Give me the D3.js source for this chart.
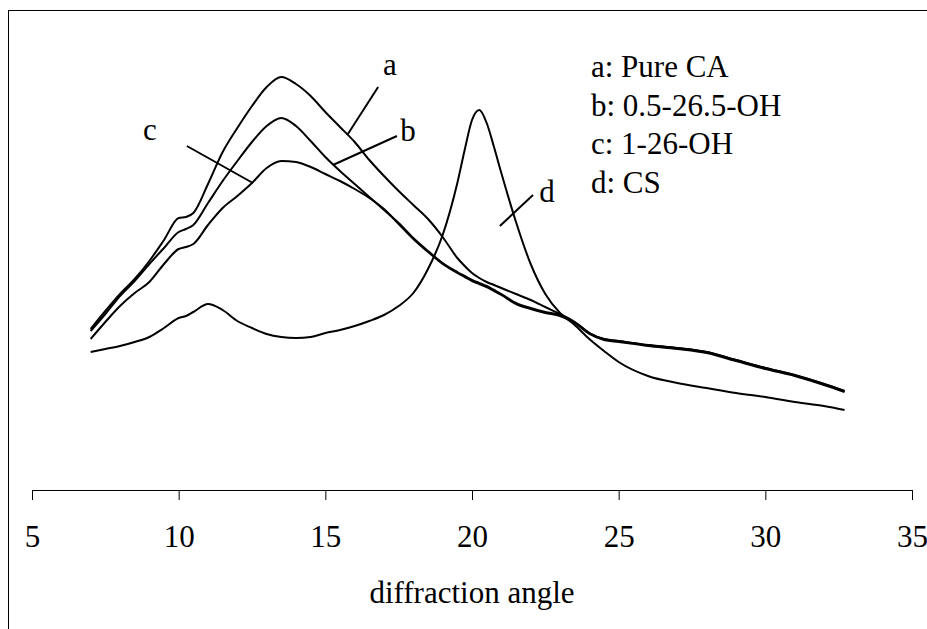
<!DOCTYPE html>
<html><head><meta charset="utf-8">
<script src="https://cdn.jsdelivr.net/npm/d3@7"></script>
<style>html,body{margin:0;padding:0;background:#fff;} svg{display:block;}</style>
</head><body>
<svg id="chart" width="927" height="629"></svg>
<script>
// diffraction angle (2θ)
const angles = [7, 7.5, 8, 8.5, 9, 9.5, 10, 10.25, 10.5, 11, 11.5, 12, 12.5, 13, 13.5, 14, 14.5, 15, 15.5, 16, 16.5, 17, 17.5, 18, 18.5, 19, 19.5, 19.75, 20, 20.25, 20.5, 20.75, 21, 21.5, 22, 22.5, 23, 23.5, 24, 24.5, 25, 26, 27, 28, 29, 30, 31, 32, 32.7];
// intensity (arbitrary units)
const pureCA = [161, 179, 196, 211, 229, 250, 272, 273, 277, 306, 338, 362, 384, 403, 413, 406, 394, 378, 363, 348, 330, 314, 299, 285, 271, 253, 232, 224, 217, 212, 208, 205, 202, 196, 190, 183, 176, 168, 157, 151, 149, 145, 142, 138, 130, 122, 115, 106, 99];
const oh05 = [159, 176, 194, 209, 226, 242, 258, 261, 265, 287, 309, 329, 348, 364, 372, 364, 349, 333, 319, 306, 293, 280, 267, 252, 239, 227, 218, 214, 210, 207, 204, 200, 196, 187, 182, 178, 175, 168, 157, 151, 149, 145, 142, 138, 130, 122, 115, 106, 99];
const oh1 = [151, 168, 184, 197, 208, 226, 241, 243, 246, 265, 282, 294, 307, 322, 329, 328, 323, 316, 309, 301, 292, 281, 266, 251, 238, 226, 217, 213, 209, 206, 203, 199, 195, 186, 181, 177, 174, 167, 156, 150, 148, 144, 141, 137, 129, 121, 114, 105, 98];
const cs = [138, 141, 144, 148, 153, 162, 172, 174, 178, 186, 180, 169, 162, 156, 153, 152, 153, 157, 160, 164, 169, 175, 184, 197, 221, 255, 307, 340, 370, 380, 367, 343, 317, 268, 226, 196, 177, 165, 151, 139, 128, 114, 107, 102, 97, 93, 88, 84, 80];

const xTicks = [5, 10, 15, 20, 25, 30, 35];
const xTitle = "diffraction angle";
const legendLabels = ["a: Pure CA", "b: 0.5-26.5-OH", "c: 1-26-OH", "d: CS"];
const curveTags = ["a", "b", "c", "d"];
// label anchor (angle, intensity) and leader line endpoints in data units
const tagPos = [[17.2, 415], [17.82, 349], [9.02, 350], [22.56, 288]];
const leaderFrom = [[16.8, 403], [17.44, 354], [10.28, 344], [22.08, 295]];
const leaderTo = [[15.77, 356], [15.26, 325], [12.53, 307], [20.95, 264]];

const series = [pureCA, oh05, oh1, cs];
const FONT = "'Liberation Serif', 'Times New Roman', serif";

const svg = d3.select("#chart");
svg.append("rect").attr("x", 8.5).attr("y", 10.5).attr("width", 1000).attr("height", 1000)
  .attr("fill", "#fff").attr("stroke", "#000").attr("stroke-width", 1);

const x = d3.scaleLinear().domain([5, 35]).range([32, 912]);
const y = d3.scaleLinear().domain([0, 480]).range([490, 10]);

const axis = svg.append("g").attr("transform", `translate(0,${y(0)})`)
  .call(d3.axisBottom(x).tickValues(xTicks).tickSizeOuter(0).tickSize(10));
axis.select(".domain").attr("stroke", "#000");
axis.selectAll(".tick line").attr("stroke", "#000");
axis.selectAll(".tick text").attr("y", 57).attr("dy", 0)
  .style("font-family", FONT).style("font-size", "31px").attr("fill", "#000");

svg.append("text").attr("x", x(20)).attr("y", 603).attr("text-anchor", "middle")
  .style("font-family", FONT).style("font-size", "31px").text(xTitle);

const line = d3.line().x((d, i) => x(angles[i])).y(d => y(d)).curve(d3.curveMonotoneX);
series.forEach(s => {
  svg.append("path").datum(s).attr("d", line).attr("fill", "none")
    .attr("stroke", "#000").attr("stroke-width", 2).attr("stroke-linejoin", "round");
});

curveTags.forEach((t, i) => {
  svg.append("line").attr("x1", x(leaderFrom[i][0])).attr("y1", y(leaderFrom[i][1]))
    .attr("x2", x(leaderTo[i][0])).attr("y2", y(leaderTo[i][1]))
    .attr("stroke", "#000").attr("stroke-width", 2);
  svg.append("text").attr("x", x(tagPos[i][0])).attr("y", y(tagPos[i][1]))
    .attr("text-anchor", "middle").style("font-family", FONT).style("font-size", "31px").text(t);
});

legendLabels.forEach((t, i) => {
  svg.append("text").attr("x", 591).attr("y", 77 + i * 38.7)
    .style("font-family", FONT).style("font-size", "31px").text(t);
});
</script>
</body></html>
